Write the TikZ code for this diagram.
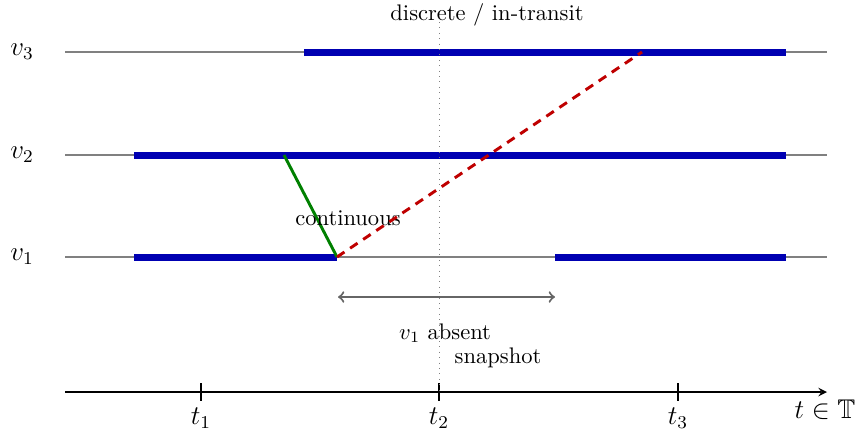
\documentclass[tikz,border=0pt]{standalone}
\usepackage{amssymb}
\usetikzlibrary{arrows.meta,positioning}

\tikzset{
  track/.style={gray, line width=0.9pt},
  present/.style={blue!70!black, line width=3.1pt},
  msg/.style={line width=1.3pt},
}

\begin{document}
\begin{tikzpicture}[x=0.444pt, y=-0.444pt, >=stealth, line join=round]
    \useasboundingbox (0,0) rectangle (858,434);
    % one track per vertex
    \foreach \v/\y in {1/257, 2/155, 3/52} {
      \node (v\v) at (22,\y) {\large $v_\v$};
      \coordinate (s\v) at (65,\y);
      \coordinate (e\v) at (827,\y);
      \draw[track] (s\v) -- (e\v);
    }
    % presence intervals
    \coordinate (p3a) at (304,52);  \coordinate (p3b) at (786,52);
    \coordinate (p2a) at (134,155); \coordinate (p2b) at (786,155);
    \coordinate (p1a) at (134,257); \coordinate (p1b) at (337,257);
    \coordinate (p1c) at (555,257); \coordinate (p1d) at (786,257);
    \draw[present] (p3a) -- (p3b);
    \draw[present] (p2a) -- (p2b);
    \draw[present] (p1a) -- (p1b);
    \draw[present] (p1c) -- (p1d);
    % time axis
    \coordinate (ax0) at (65,392);
    \coordinate (ax1) at (827,392);
    \draw[->, line width=0.7pt] (ax0) -- (ax1);
    \node (T) at (825,410) {\large $t \in \mathbb{T}$};
    \foreach \i/\x in {1/201, 2/439, 3/678} {
      \coordinate (k\i) at (\x,392);
      \draw[line width=0.5pt] ([yshift=4pt]k\i) -- ([yshift=-4pt]k\i);
      \node (t\i) at (\x,418) {\large $t_\i$};
    }
    % snapshot at t2
    \coordinate (top) at (439,22);
    \draw[gray, dotted, line width=0.4pt] (top) -- (k2);
    \node (disc) at (487,15) {discrete / in-transit};
    % messages
    \coordinate (m2) at (284,155);
    \coordinate (m3) at (642,52);
    \draw[msg, green!50!black] (m2) -- (p1b);
    \node (cont) at (348,218) {continuous};
    \draw[msg, red!75!black, dash pattern=on 4pt off 3pt] (p1b) -- (m3);
    % absence of v1
    \coordinate (g0) at (338,297);
    \coordinate (g1) at (555,297);
    \draw[<->, >=to, gray!80!black, line width=0.9pt] (g0) -- (g1);
    \node (abs) at (445,333) {$v_1$ absent};
    \node (snap) at (498,358) {snapshot};
\end{tikzpicture}
\end{document}
